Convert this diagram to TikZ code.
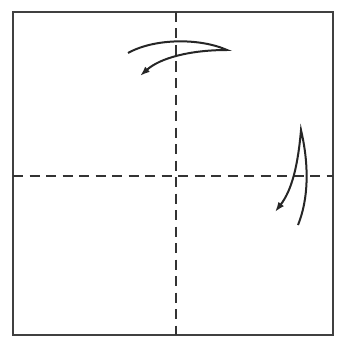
\documentclass[tikz,border=0pt]{standalone}
\usetikzlibrary{
arrows.meta
}
\tikzset{
paper/.style={
draw=black!75,
line width=2.2pt
},
crease/.style={
draw=black!80,
line width=2pt,
dash pattern=on 10pt off 6.5pt
},
foldarrow/.style={
-{Latex[length=10pt,width=7pt]},
line width=2pt,
draw=black!85
}
}

\begin{document}
\begin{tikzpicture}[x=1pt,y=-1pt]
\useasboundingbox (0,0) rectangle (337,337);
\coordinate (tl) at (13,12);
\coordinate (br) at (333,335);
\draw[paper] (tl) rectangle (br);

% valley creases
\draw[crease] (176,12) -- (176,335);
\draw[crease] (13,176) -- (333,176);

% fold arrows
\draw[foldarrow] (128,53) .. controls (155,38) and (200,38) .. (227,50)
  .. controls (190,50) and (160,58) .. (140,76);
\draw[foldarrow] (298,225) .. controls (310,195) and (308,160) .. (301,130)
  .. controls (298,165) and (292,190) .. (275,212);
\end{tikzpicture}
\end{document}
